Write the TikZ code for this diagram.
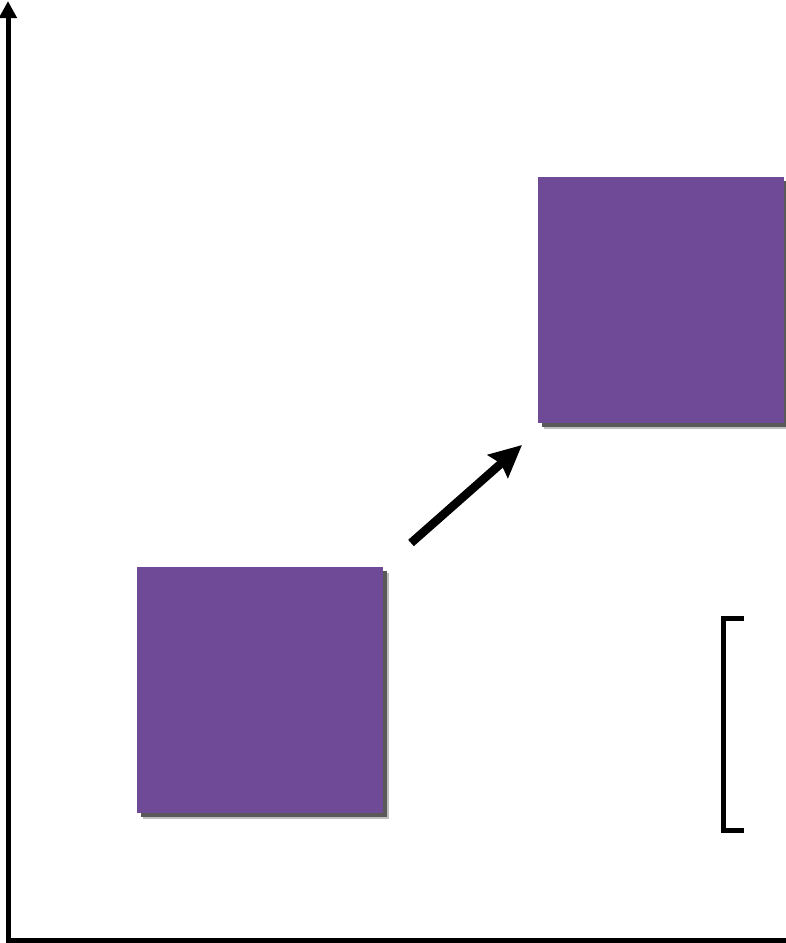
\documentclass[tikz,border=0pt]{standalone}
\usepackage{tikz}
\usetikzlibrary{arrows.meta,shadows}
\definecolor{cardpurple}{RGB}{111,74,150}

\begin{document}
\begin{tikzpicture}[x=1pt,y=-1pt,
		card/.style={fill=cardpurple,minimum size=246pt,inner sep=0pt,
			drop shadow={shadow xshift=6pt,shadow yshift=-6pt,fill=black!25,opacity=1},
			drop shadow={shadow xshift=4pt,shadow yshift=-4pt,fill=black!65,opacity=1}},
		axisline/.style={line width=5pt,line join=miter},
		moveline/.style={line width=8.5pt,-{Stealth[length=32pt,width=30pt,inset=4pt]}},
		bracketline/.style={line width=5pt}]
			% Page frame in pixel units, y grows downward.
			\useasboundingbox (0,0) rectangle (785,943);

			% The two axes meet at the lower left; only the vertical one has a tip.
			\coordinate (ytip) at (8,1);
			\coordinate (origin) at (8,940);
			\coordinate (xend) at (790,940);
			\draw[axisline,{Triangle[length=17pt,width=17pt]}-] (ytip) -- (origin) -- (xend);

			% Lower card and the card it moves to.
			\node[card] (lowcard) at (260,690) {};
			\node[card] (highcard) at (660.5,299.5) {};

			% Displacement between the two cards.
			\coordinate (movetail) at (411,543);
			\coordinate (movehead) at (522,445);
			\draw[moveline] (movetail) -- (movehead);

			% Bracket on the right.
			\coordinate (brtop) at (744,618.5);
			\coordinate (brbottom) at (744,830.5);
			\draw[bracketline] (brtop) -| (723.5,618.5) -- (723.5,830.5) -- (brbottom);
		\end{tikzpicture}
\end{document}
